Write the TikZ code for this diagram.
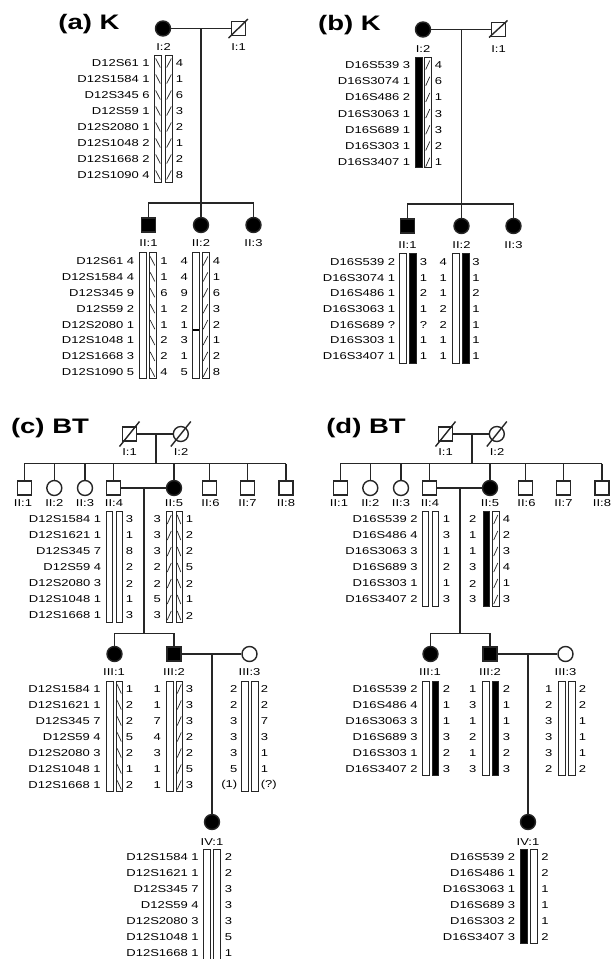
\documentclass[tikz,border=0pt]{standalone}
\usepackage{fontspec}
\setmainfont{Liberation Sans}
\tikzset{
  ped/.style={line width=1.4pt, draw=black!85},
  male/.style={ped, rectangle, minimum size=14pt, inner sep=0pt},
  female/.style={ped, circle, minimum size=15pt, inner sep=0pt},
  aff/.style={fill=black},
  lbl/.style={font=\fontsize{10}{12}\selectfont, inner sep=0pt, xscale=1.3},
  ttl/.style={font=\fontsize{21}{25}\selectfont\bfseries, inner sep=0pt, xscale=1.31},
  barln/.style={line width=1pt, draw=black!85},
  hatchln/.style={line width=0.7pt, draw=black!85},
}
\newcommand{\hapcol}[6]{%
  \foreach \hv [count=\hi from 0] in {#6} {\node[lbl, anchor=#3] (#1\hi) at (#2, {#4+#5*\hi}) {\hv};}%
}
\newcommand{\hapopen}[4]{\draw[barln] (#1,#3) rectangle (#2,#4);}
\newcommand{\hapblack}[4]{\draw[barln,fill=black] (#1,#3) rectangle (#2,#4);}
\newcommand{\hapnw}[7]{\draw[barln] (#1,#3) rectangle (#2,#4);%
  \foreach \hk in {1,...,#7} {\draw[hatchln] ({#1+1.2},{#5+(\hk-1)*#6-4.5}) -- ({#2-1.2},{#5+(\hk-1)*#6+4.5});}}
\newcommand{\hapne}[7]{\draw[barln] (#1,#3) rectangle (#2,#4);%
  \foreach \hk in {1,...,#7} {\draw[hatchln] ({#1+1.2},{#5+(\hk-1)*#6+4.5}) -- ({#2-1.2},{#5+(\hk-1)*#6-4.5});}}
\newcommand{\btped}[1]{%
  \node[ttl] (#1T) at (50,428.5) {(#1) BT};
  \node[male] (#1I1) at (129.5,434) {};
  \node[female] (#1I2) at (180.8,434) {};
  \draw[ped] (119.5,446.5) -- (139.5,421.5);
  \draw[ped] (170.8,446.5) -- (190.8,421.5);
  \node[lbl] (#1I1l) at (129.5,452.5) {I:1};
  \node[lbl] (#1I2l) at (181,452.5) {I:2};
  \draw[ped] (#1I1) -- (#1I2);
  \coordinate (#1M) at (156,434);
  \coordinate (#1S) at (156,463.5);
  \draw[ped] (#1M) -- (#1S);
  \node[male] (#1II1) at (24.2,488) {};
  \node[female] (#1II2) at (54.3,488) {};
  \node[female] (#1II3) at (85,488) {};
  \node[male] (#1II4) at (113.5,488) {};
  \node[female,aff] (#1II5) at (174,488) {};
  \node[male] (#1II6) at (209.2,488) {};
  \node[male] (#1II7) at (247.5,488) {};
  \node[male] (#1II8) at (285.8,488) {};
  \coordinate (#1D1) at (24.2,463.5);
  \coordinate (#1D2) at (54.3,463.5);
  \coordinate (#1D3) at (85,463.5);
  \coordinate (#1D4) at (113.5,463.5);
  \coordinate (#1D5) at (174,463.5);
  \coordinate (#1D6) at (209.2,463.5);
  \coordinate (#1D7) at (247.5,463.5);
  \coordinate (#1D8) at (285.8,463.5);
  \draw[ped] (#1D1) -- (#1D8);
  \foreach \k in {1,...,8} {\draw[ped] (#1D\k) -- (#1II\k);}
  \node[lbl] (#1II1l) at (23,503.5) {II:1};
  \node[lbl] (#1II2l) at (54.3,503.5) {II:2};
  \node[lbl] (#1II3l) at (85,503.5) {II:3};
  \node[lbl] (#1II4l) at (114,503.5) {II:4};
  \node[lbl] (#1II5l) at (174,503.5) {II:5};
  \node[lbl] (#1II6l) at (210.5,503.5) {II:6};
  \node[lbl] (#1II7l) at (247.5,503.5) {II:7};
  \node[lbl] (#1II8l) at (286,503.5) {II:8};
  \draw[ped] (#1II4) -- (#1II5);
  \coordinate (#1M2) at (144,488);
  \coordinate (#1S2) at (144,633.5);
  \draw[ped] (#1M2) -- (#1S2);
  \node[female,aff] (#1III1) at (114.5,654) {};
  \node[male,aff] (#1III2) at (174,654) {};
  \node[female] (#1III3) at (249.5,654) {};
  \coordinate (#1D9) at (114.5,633.5);
  \coordinate (#1D10) at (174,633.5);
  \draw[ped] (#1III1) -- (#1D9) -- (#1D10) -- (#1III2);
  \draw[ped] (#1III2) -- (#1III3);
  \node[lbl] (#1III1l) at (114,672) {III:1};
  \node[lbl] (#1III2l) at (174,672) {III:2};
  \node[lbl] (#1III3l) at (249.5,672) {III:3};
  \coordinate (#1M3) at (212,654);
  \node[female,aff] (#1IV1) at (212,822) {};
  \draw[ped] (#1M3) -- (#1IV1);
  \node[lbl] (#1IV1l) at (212,842) {IV:1};
}
\begin{document}
\begin{tikzpicture}[x=1pt,y=-1pt]
\useasboundingbox (0,0) rectangle (612,959);
\fill[white] (0,0) rectangle (612,959);
% ---------------- (a)
\node[ttl] (aT) at (89,24.5) {(a) K};
\node[female,aff] (aI2) at (163,28.5) {};
\node[male] (aI1) at (238.5,28.5) {};
\draw[ped] (228.5,38) -- (248,19);
\node[lbl] (aI2l) at (163.5,47) {I:2};
\node[lbl] (aI1l) at (238.5,47) {I:1};
\draw[ped] (aI2) -- (aI1);
\coordinate (aM) at (201,28.5);
\coordinate (aS) at (201,203);
\coordinate (aS1) at (148.5,203);
\coordinate (aS3) at (253.5,203);
\draw[ped] (aM) -- (aS);
\node[male,aff] (aII1) at (148.5,225) {};
\node[female,aff] (aII2) at (201,225) {};
\node[female,aff] (aII3) at (253.5,225) {};
\draw[ped] (aII1) -- (aS1) -- (aS3) -- (aII3);
\draw[ped] (aS) -- (aII2);
\node[lbl] (aII1l) at (148.5,243) {II:1};
\node[lbl] (aII2l) at (201,243) {II:2};
\node[lbl] (aII3l) at (253.5,243) {II:3};
\hapcol{aI2L}{150}{east}{63}{16}{D12S61 1, D12S1584 1, D12S345 6, D12S59 1, D12S2080 1, D12S1048 2, D12S1668 2, D12S1090 4}
\hapnw{154.5}{161.5}{55}{182}{63}{16}{8}
\hapne{165.5}{172.5}{55}{182}{63}{16}{8}
\hapcol{aI2R}{175.5}{west}{63}{16}{4,1,6,3,2,1,2,8}
\hapcol{aII1L}{134.5}{east}{261}{15.9}{D12S61 4, D12S1584 4, D12S345 9, D12S59 2, D12S2080 1, D12S1048 1, D12S1668 3, D12S1090 5}
\hapopen{139.5}{146.5}{252}{378}
\hapnw{149}{156}{252}{378}{261}{15.9}{8}
\hapcol{aII1R}{160}{west}{261}{15.9}{1,1,6,1,1,2,2,4}
\hapcol{aII2L}{188}{east}{261}{15.9}{4,4,9,2,1,3,1,5}
\hapopen{192.5}{199}{252}{378}
\draw[line width=1.8pt] (192.5,330) -- (199,330);
\hapne{202}{209}{252}{378}{261}{15.9}{8}
\hapcol{aII2R}{212.5}{west}{261}{15.9}{4,1,6,3,2,1,2,8}
% ---------------- (b)
\node[ttl] (bT) at (349.5,25) {(b) K};
\node[female,aff] (bI2) at (423,29.5) {};
\node[male] (bI1) at (498.5,29.5) {};
\draw[ped] (489,37.5) -- (507.5,20.5);
\node[lbl] (bI2l) at (423,49) {I:2};
\node[lbl] (bI1l) at (498.5,49) {I:1};
\draw[ped] (bI2) -- (bI1);
\coordinate (bM) at (461.5,29.5);
\coordinate (bS) at (461.5,204);
\coordinate (bS1) at (407.5,204);
\coordinate (bS3) at (513.5,204);
\draw[ped] (bM) -- (bS);
\node[male,aff] (bII1) at (407.5,226) {};
\node[female,aff] (bII2) at (461.5,226) {};
\node[female,aff] (bII3) at (513.5,226) {};
\draw[ped] (bII1) -- (bS1) -- (bS3) -- (bII3);
\draw[ped] (bS) -- (bII2);
\node[lbl] (bII1l) at (407.5,245) {II:1};
\node[lbl] (bII2l) at (461.5,245) {II:2};
\node[lbl] (bII3l) at (513.5,245) {II:3};
\hapcol{bI2L}{410.5}{east}{65}{16.2}{D16S539 3, D16S3074 1, D16S486 2, D16S3063 1, D16S689 1, D16S303 1, D16S3407 1}
\hapblack{415}{422}{57}{167}
\hapne{424.5}{431}{57}{167}{65}{16.2}{7}
\hapcol{bI2R}{434.5}{west}{65}{16.2}{4,6,1,3,3,2,1}
\hapcol{bII1L}{395.5}{east}{262}{15.7}{D16S539 2, D16S3074 1, D16S486 1, D16S3063 1, D16S689 ?, D16S303 1, D16S3407 1}
\hapopen{399.5}{406}{253}{363}
\hapblack{409}{416}{253}{363}
\hapcol{bII1R}{419.5}{west}{262}{15.7}{3,1,2,1,?,1,1}
\hapcol{bII2L}{447}{east}{262}{15.7}{4,1,1,2,2,1,1}
\hapopen{452.5}{459}{253}{363}
\hapblack{462}{469}{253}{363}
\hapcol{bII2R}{472}{west}{262}{15.7}{3,1,2,1,1,1,1}
% ---------------- (c)
\btped{c}
\hapcol{cII4L}{101.5}{east}{519.5}{16}{D12S1584 1, D12S1621 1, D12S345 7, D12S59 4, D12S2080 3, D12S1048 1, D12S1668 1}
\hapopen{106.5}{112.5}{511.5}{622}
\hapopen{116}{122}{511.5}{622}
\hapcol{cII4R}{125.5}{west}{519.5}{16}{3,1,8,2,2,1,3}
\hapcol{cII5L}{161}{east}{519.5}{16}{3,3,3,2,2,5,3}
\hapne{166}{172.5}{511.5}{622}{519.5}{16}{7}
\hapnw{176}{182}{511.5}{622}{519.5}{16}{7}
\hapcol{cII5R}{185.5}{west}{519.5}{16}{1,2,2,5,2,1,2}
\hapcol{cIII1L}{101}{east}{689}{16}{D12S1584 1, D12S1621 1, D12S345 7, D12S59 4, D12S2080 3, D12S1048 1, D12S1668 1}
\hapopen{106.5}{113}{681}{791}
\hapnw{116}{122.5}{681}{791}{689}{16}{7}
\hapcol{cIII1R}{125.5}{west}{689}{16}{1,2,2,5,2,1,2}
\hapcol{cIII2L}{161}{east}{689}{16}{1,1,7,4,3,1,1}
\hapopen{166.5}{173}{681}{791}
\hapne{176}{182.5}{681}{791}{689}{16}{7}
\hapcol{cIII2R}{185.5}{west}{689}{16}{3,3,3,2,2,5,3}
\hapcol{cIII3L}{237.5}{east}{689}{16}{2,2,3,3,3,5,(1)}
\hapopen{241.5}{248}{681}{791}
\hapopen{251.5}{258}{681}{791}
\hapcol{cIII3R}{260.5}{west}{689}{16}{2,2,7,3,1,1,(?)}
\hapcol{cIV1L}{199}{east}{857}{16}{D12S1584 1, D12S1621 1, D12S345 7, D12S59 4, D12S2080 3, D12S1048 1, D12S1668 1}
\hapopen{203.5}{210}{849}{965}
\hapopen{213.5}{220}{849}{965}
\hapcol{cIV1R}{224.5}{west}{857}{16}{2,2,3,3,3,5,1}
% ---------------- (d)
\begin{scope}[xshift=316pt]
\btped{d}
\end{scope}
\hapcol{dII4L}{418}{east}{519.5}{16}{D16S539 2, D16S486 4, D16S3063 3, D16S689 3, D16S303 1, D16S3407 2}
\hapopen{422.5}{428.5}{511.5}{606}
\hapopen{432}{438.5}{511.5}{606}
\hapcol{dII4R}{442.5}{west}{519.5}{16}{1,3,1,2,1,3}
\hapcol{dII5L}{476.5}{east}{519.5}{16}{2,1,1,3,2,3}
\hapblack{483}{489.5}{511.5}{606}
\hapne{492.5}{499}{511.5}{606}{519.5}{16}{6}
\hapcol{dII5R}{502.5}{west}{519.5}{16}{4,2,3,4,1,3}
\hapcol{dIII1L}{418}{east}{689}{16}{D16S539 2, D16S486 4, D16S3063 3, D16S689 3, D16S303 1, D16S3407 2}
\hapopen{422.5}{429}{681}{775}
\hapblack{432}{438.5}{681}{775}
\hapcol{dIII1R}{442.5}{west}{689}{16}{2,1,1,3,2,3}
\hapcol{dIII2L}{476.5}{east}{689}{16}{1,3,1,2,1,3}
\hapopen{482.5}{489}{681}{775}
\hapblack{492}{498.5}{681}{775}
\hapcol{dIII2R}{502.5}{west}{689}{16}{2,1,1,3,2,3}
\hapcol{dIII3L}{552.5}{east}{689}{16}{1,2,3,3,3,2}
\hapopen{558.5}{565}{681}{775}
\hapopen{568.5}{575}{681}{775}
\hapcol{dIII3R}{578.5}{west}{689}{16}{2,2,1,1,1,2}
\hapcol{dIV1L}{515.5}{east}{857}{16}{D16S539 2, D16S486 1, D16S3063 1, D16S689 3, D16S303 2, D16S3407 3}
\hapblack{520}{527}{849}{943}
\hapopen{530}{537}{849}{943}
\hapcol{dIV1R}{541}{west}{857}{16}{2,2,1,1,1,2}
\end{tikzpicture}
\end{document}
